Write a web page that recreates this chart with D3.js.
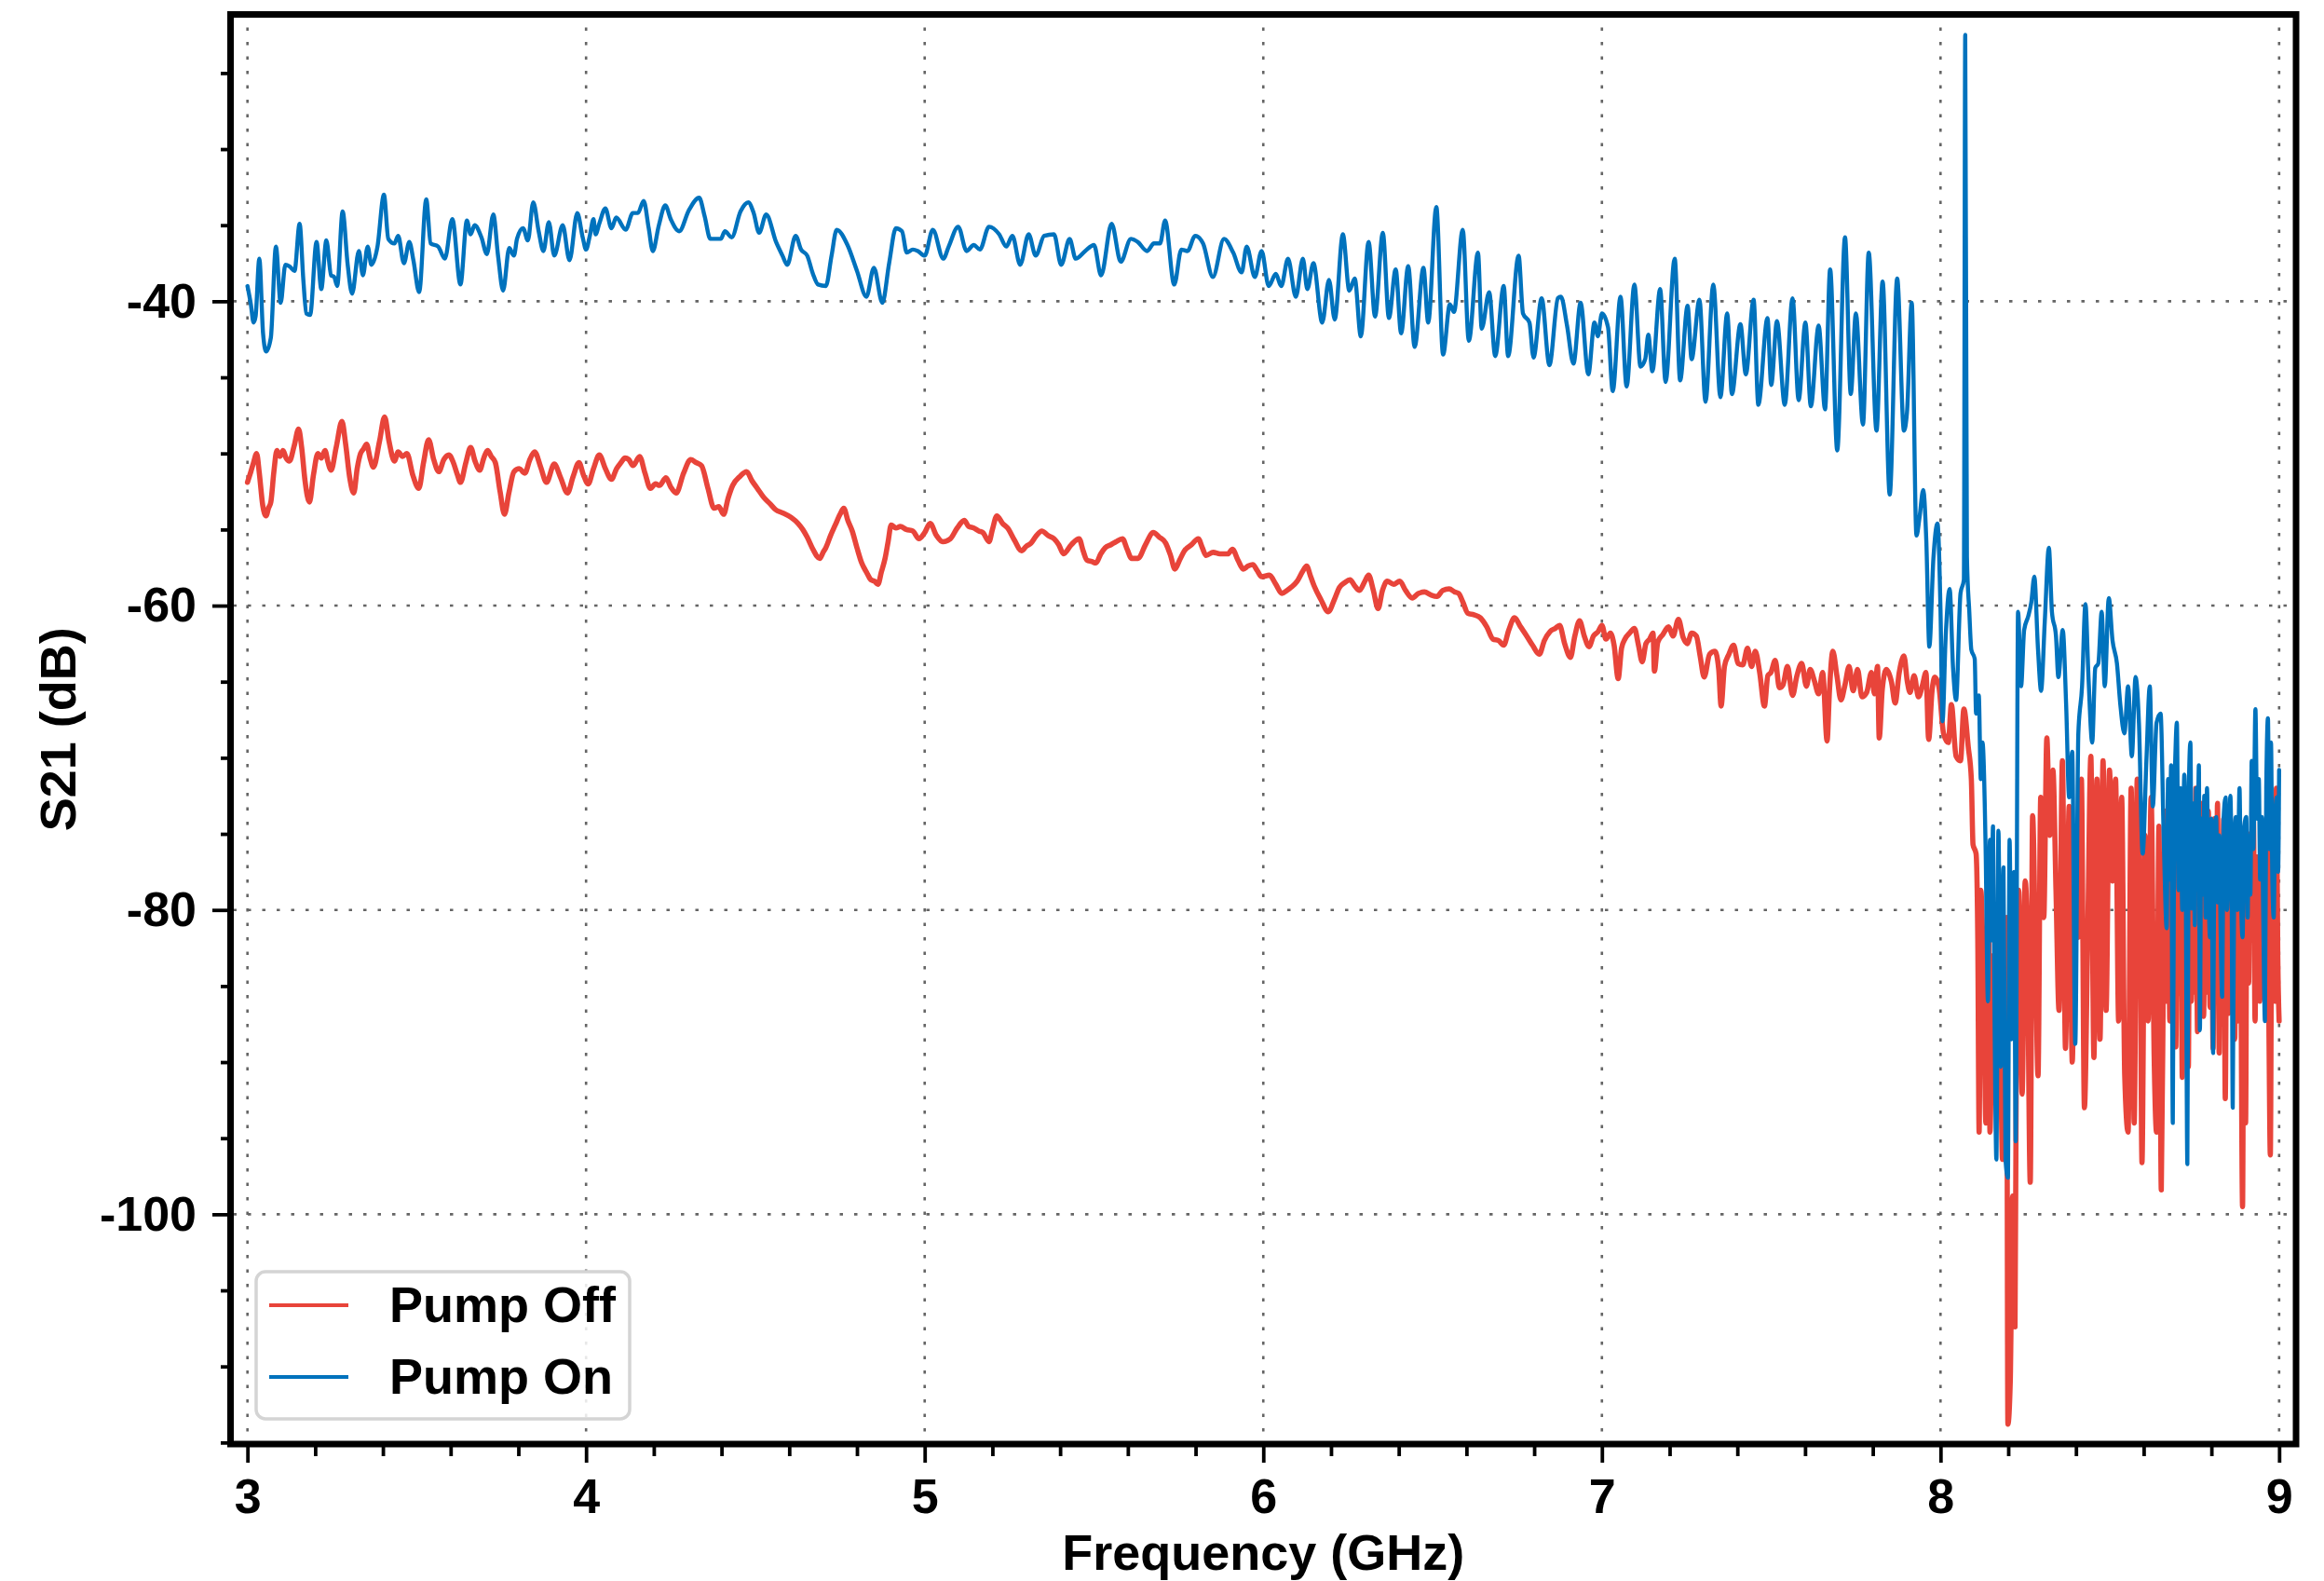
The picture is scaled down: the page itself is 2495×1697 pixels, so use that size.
<!DOCTYPE html>
<html>
<head>
<meta charset="utf-8">
<script src="https://cdn.jsdelivr.net/npm/d3@7"></script>
<style>
  html, body { margin: 0; padding: 0; background: #ffffff; }
  svg { display: block; }
</style>
</head>
<body>
<div id="chart"></div>
<script>
// ---- Axis ticks ----
const xTickValues = [3, 4, 5, 6, 7, 8, 9];
const yTickValues = [-100, -80, -60, -40];

// ---- Series labels ----
const seriesNames = ["Pump Off", "Pump On"];

// ---- Measured S21 traces: [frequency (GHz), S21 (dB)] ----
const pumpOffTrace = [
  [3.000,-51.9],[3.010,-51.2],[3.018,-50.6],[3.027,-50.0],[3.035,-51.3],[3.045,-53.4],[3.055,-54.1],[3.062,-53.6],[3.069,-53.2],[3.078,-51.2],
  [3.087,-49.8],[3.096,-50.2],[3.105,-49.8],[3.114,-50.3],[3.124,-50.5],[3.138,-49.5],[3.151,-48.4],[3.160,-49.6],[3.170,-51.8],[3.183,-53.2],
  [3.195,-51.4],[3.208,-50.0],[3.218,-50.3],[3.229,-49.8],[3.238,-50.6],[3.247,-51.1],[3.262,-49.6],[3.279,-47.9],[3.290,-49.4],[3.302,-51.6],
  [3.314,-52.6],[3.324,-51.0],[3.334,-50.0],[3.343,-49.7],[3.352,-49.4],[3.362,-50.3],[3.372,-50.9],[3.390,-49.2],[3.405,-47.6],[3.418,-49.2],
  [3.434,-50.5],[3.445,-49.9],[3.458,-50.2],[3.471,-50.0],[3.488,-51.4],[3.506,-52.3],[3.520,-50.6],[3.535,-49.1],[3.550,-50.4],[3.565,-51.2],
  [3.580,-50.4],[3.595,-50.1],[3.608,-50.6],[3.620,-51.4],[3.629,-51.9],[3.645,-50.6],[3.659,-49.6],[3.672,-50.5],[3.686,-51.1],[3.698,-50.3],
  [3.709,-49.8],[3.720,-50.2],[3.732,-50.6],[3.746,-52.5],[3.759,-54.0],[3.772,-52.6],[3.787,-51.2],[3.803,-51.0],[3.819,-51.3],[3.834,-50.4],
  [3.848,-49.9],[3.866,-50.9],[3.883,-51.9],[3.906,-50.7],[3.925,-51.6],[3.945,-52.6],[3.962,-51.5],[3.979,-50.6],[3.992,-51.4],[4.006,-52.0],
  [4.022,-51.0],[4.039,-50.1],[4.057,-51.0],[4.075,-51.7],[4.090,-51.0],[4.103,-50.6],[4.115,-50.3],[4.126,-50.4],[4.139,-50.8],[4.158,-50.2],
  [4.174,-51.3],[4.190,-52.3],[4.205,-52.0],[4.217,-52.1],[4.236,-51.6],[4.250,-52.2],[4.266,-52.6],[4.288,-51.3],[4.309,-50.4],[4.325,-50.6],
  [4.341,-50.8],[4.360,-52.3],[4.378,-53.6],[4.392,-53.5],[4.406,-54.0],[4.420,-52.9],[4.433,-52.1],[4.455,-51.5],[4.474,-51.2],[4.490,-51.8],
  [4.506,-52.3],[4.525,-52.9],[4.543,-53.3],[4.560,-53.7],[4.580,-53.9],[4.605,-54.2],[4.626,-54.6],[4.640,-55.0],[4.653,-55.5],[4.670,-56.3],
  [4.690,-56.9],[4.700,-56.5],[4.708,-56.2],[4.722,-55.4],[4.736,-54.7],[4.750,-54.0],[4.761,-53.6],[4.773,-54.4],[4.786,-55.1],[4.800,-56.2],
  [4.814,-57.2],[4.828,-57.8],[4.841,-58.3],[4.852,-58.4],[4.862,-58.6],[4.872,-57.8],[4.883,-56.9],[4.892,-55.8],[4.901,-54.7],[4.915,-54.9],
  [4.928,-54.8],[4.946,-55.0],[4.965,-55.1],[4.983,-55.6],[5.000,-55.2],[5.016,-54.6],[5.035,-55.4],[5.053,-55.8],[5.076,-55.6],[5.096,-54.9],
  [5.117,-54.4],[5.130,-54.8],[5.145,-54.9],[5.160,-55.1],[5.172,-55.2],[5.190,-55.8],[5.200,-55.0],[5.213,-54.1],[5.230,-54.6],[5.245,-54.9],
  [5.265,-55.7],[5.286,-56.4],[5.300,-56.1],[5.314,-55.9],[5.330,-55.4],[5.346,-55.1],[5.365,-55.4],[5.382,-55.6],[5.396,-56.0],[5.410,-56.6],
  [5.433,-56.0],[5.456,-55.6],[5.468,-56.4],[5.479,-57.0],[5.493,-57.1],[5.506,-57.2],[5.520,-56.6],[5.533,-56.2],[5.550,-56.0],[5.565,-55.8],
  [5.584,-55.6],[5.598,-56.3],[5.611,-56.9],[5.630,-56.9],[5.652,-56.0],[5.675,-55.2],[5.693,-55.5],[5.712,-55.9],[5.726,-56.7],[5.739,-57.6],
  [5.753,-57.0],[5.767,-56.4],[5.788,-56.0],[5.808,-55.6],[5.820,-56.2],[5.831,-56.7],[5.852,-56.5],[5.872,-56.6],[5.895,-56.6],[5.909,-56.3],
  [5.925,-57.0],[5.941,-57.6],[5.955,-57.4],[5.969,-57.3],[5.982,-57.7],[5.995,-58.1],[6.018,-58.0],[6.037,-58.6],[6.055,-59.2],[6.070,-59.0],
  [6.082,-58.8],[6.100,-58.4],[6.115,-57.8],[6.128,-57.4],[6.140,-58.1],[6.150,-58.7],[6.170,-59.6],[6.192,-60.4],[6.210,-59.6],[6.225,-58.8],
  [6.240,-58.5],[6.256,-58.3],[6.270,-58.7],[6.284,-59.0],[6.300,-58.4],[6.311,-58.0],[6.325,-59.0],[6.339,-60.2],[6.352,-59.0],[6.366,-58.4],
  [6.385,-58.6],[6.403,-58.4],[6.420,-59.0],[6.440,-59.5],[6.458,-59.2],[6.476,-59.1],[6.495,-59.3],[6.513,-59.4],[6.530,-59.0],[6.549,-58.9],
  [6.565,-59.1],[6.577,-59.2],[6.590,-59.8],[6.604,-60.5],[6.622,-60.6],[6.641,-60.8],[6.660,-61.4],[6.678,-62.2],[6.695,-62.3],[6.710,-62.6],
  [6.725,-61.6],[6.742,-60.8],[6.760,-61.4],[6.778,-62.0],[6.795,-62.6],[6.815,-63.2],[6.830,-62.3],[6.847,-61.7],[6.862,-61.5],[6.875,-61.3],
  [6.890,-62.5],[6.907,-63.4],[6.920,-62.0],[6.934,-61.0],[6.948,-62.0],[6.962,-62.7],[6.975,-62.0],[6.989,-61.7],[7.000,-61.3],[7.012,-62.2],
  [7.025,-61.8],[7.036,-62.6],[7.048,-64.8],[7.058,-62.8],[7.068,-62.2],[7.082,-61.8],[7.096,-61.5],[7.108,-62.6],[7.119,-63.7],[7.130,-62.5],
  [7.141,-62.2],[7.151,-61.8],[7.155,-64.3],[7.165,-62.4],[7.180,-61.9],[7.197,-61.4],[7.210,-62.0],[7.226,-60.9],[7.240,-62.1],[7.252,-62.5],
  [7.265,-61.8],[7.279,-62.0],[7.290,-63.3],[7.302,-64.7],[7.318,-63.2],[7.334,-63.0],[7.345,-64.2],[7.352,-66.6],[7.362,-64.0],[7.375,-63.2],
  [7.389,-62.6],[7.402,-63.8],[7.416,-63.9],[7.430,-62.8],[7.442,-64.0],[7.453,-63.0],[7.466,-64.4],[7.480,-66.6],[7.490,-64.6],[7.499,-64.4],
  [7.512,-63.6],[7.524,-65.4],[7.535,-65.2],[7.548,-64.0],[7.563,-65.9],[7.576,-64.6],[7.590,-63.8],[7.604,-65.3],[7.615,-64.2],[7.627,-64.9],
  [7.640,-65.8],[7.652,-64.4],[7.665,-68.9],[7.672,-65.6],[7.682,-63.0],[7.694,-64.6],[7.706,-66.2],[7.718,-65.2],[7.730,-64.0],[7.742,-65.6],
  [7.755,-64.2],[7.768,-66.0],[7.782,-65.7],[7.796,-64.4],[7.805,-65.8],[7.814,-64.0],[7.819,-68.7],[7.828,-65.5],[7.840,-64.2],[7.855,-65.0],
  [7.866,-66.4],[7.878,-64.4],[7.892,-63.3],[7.902,-65.0],[7.910,-65.7],[7.922,-64.6],[7.935,-66.0],[7.947,-65.2],[7.957,-64.4],[7.965,-68.8],
  [7.975,-65.6],[7.983,-64.7],[7.995,-65.3],[8.009,-68.4],[8.023,-69.0],[8.032,-66.5],[8.046,-69.9],[8.059,-70.2],[8.069,-66.8],[8.082,-69.3],
  [8.091,-71.4],[8.096,-75.7],[8.105,-76.3],[8.110,-81.8],[8.114,-94.6],[8.119,-78.7],[8.128,-86.0],[8.134,-94.0],[8.142,-78.7],[8.146,-94.6],
  [8.155,-83.0],[8.165,-90.9],[8.174,-84.2],[8.183,-96.4],[8.189,-87.9],[8.195,-80.5],[8.199,-113.8],[8.206,-111.0],[8.213,-98.8],[8.220,-107.4],
  [8.224,-88.8],[8.231,-78.7],[8.241,-92.1],[8.250,-78.1],[8.256,-81.2],[8.265,-97.9],[8.272,-73.8],[8.281,-83.6],[8.288,-90.9],[8.296,-72.6],
  [8.305,-80.5],[8.314,-68.7],[8.323,-75.1],[8.332,-70.8],[8.341,-78.7],[8.350,-86.6],[8.360,-70.2],[8.369,-89.1],[8.380,-73.2],[8.389,-90.0],
  [8.398,-78.7],[8.407,-81.8],[8.416,-71.4],[8.425,-93.0],[8.435,-81.2],[8.444,-69.9],[8.453,-89.7],[8.462,-71.4],[8.471,-88.5],[8.480,-70.2],
  [8.489,-86.6],[8.499,-70.8],[8.508,-78.1],[8.517,-71.4],[8.526,-87.3],[8.535,-72.6],[8.544,-90.9],[8.554,-94.6],[8.563,-72.0],[8.572,-94.0],
  [8.581,-71.4],[8.590,-82.4],[8.595,-96.6],[8.604,-75.1],[8.613,-87.3],[8.622,-72.6],[8.631,-89.7],[8.638,-94.6],[8.645,-74.5],[8.652,-98.4],
  [8.659,-81.8],[8.664,-73.5],[8.668,-86.0],[8.673,-74.0],[8.677,-87.3],[8.682,-72.5],[8.686,-84.0],[8.691,-75.0],[8.695,-89.0],[8.700,-73.0],
  [8.704,-85.5],[8.709,-74.5],[8.714,-91.0],[8.718,-72.8],[8.723,-84.0],[8.727,-75.5],[8.732,-90.3],[8.736,-73.5],[8.741,-86.0],[8.745,-74.0],
  [8.750,-85.4],[8.754,-72.0],[8.759,-88.0],[8.763,-75.0],[8.768,-85.1],[8.772,-73.0],[8.777,-87.0],[8.782,-74.5],[8.787,-85.4],[8.791,-73.5],
  [8.796,-86.4],[8.800,-75.0],[8.805,-89.1],[8.809,-74.0],[8.814,-85.6],[8.818,-73.0],[8.823,-89.4],[8.827,-75.5],[8.832,-84.5],[8.836,-74.0],
  [8.841,-92.4],[8.846,-76.0],[8.851,-86.8],[8.855,-73.5],[8.860,-85.2],[8.864,-75.0],[8.869,-88.5],[8.873,-76.0],[8.878,-87.3],[8.885,-78.0],
  [8.892,-99.5],[8.896,-80.0],[8.901,-94.0],[8.905,-76.0],[8.910,-84.8],[8.914,-75.0],[8.919,-82.0],[8.924,-74.0],[8.929,-87.3],[8.933,-76.5],
  [8.938,-78.0],[8.943,-86.0],[8.947,-74.5],[8.952,-85.4],[8.956,-77.0],[8.961,-84.8],[8.965,-73.0],[8.970,-88.0],[8.974,-96.1],[8.979,-76.0],
  [8.983,-78.1],[8.988,-86.0],[8.992,-72.0],[8.996,-83.0],[9.000,-87.3]
];

const pumpOnTrace = [
  [3.000,-39.0],[3.010,-40.2],[3.018,-41.4],[3.024,-41.0],[3.035,-37.2],[3.046,-42.1],[3.055,-43.3],[3.069,-42.4],[3.084,-36.4],[3.098,-40.1],
  [3.112,-37.6],[3.124,-37.7],[3.139,-38.0],[3.154,-34.9],[3.165,-38.6],[3.174,-40.8],[3.185,-40.9],[3.204,-36.1],[3.218,-39.2],[3.233,-36.0],
  [3.247,-38.3],[3.256,-38.4],[3.265,-39.0],[3.281,-34.1],[3.296,-37.6],[3.309,-39.5],[3.329,-36.7],[3.341,-38.3],[3.355,-36.4],[3.366,-37.6],
  [3.384,-36.4],[3.403,-33.0],[3.416,-35.9],[3.434,-36.2],[3.445,-35.7],[3.462,-37.5],[3.478,-36.1],[3.490,-37.3],[3.507,-39.4],[3.528,-33.3],
  [3.541,-36.2],[3.563,-36.4],[3.583,-37.2],[3.605,-34.6],[3.629,-38.9],[3.648,-34.7],[3.659,-35.6],[3.671,-35.0],[3.691,-35.8],[3.707,-36.9],
  [3.726,-34.3],[3.740,-37.0],[3.755,-39.3],[3.773,-36.5],[3.787,-37.0],[3.796,-35.9],[3.814,-35.2],[3.828,-36.0],[3.844,-33.5],[3.860,-35.4],
  [3.874,-36.7],[3.890,-34.8],[3.906,-37.0],[3.931,-35.0],[3.951,-37.3],[3.974,-34.2],[3.990,-35.8],[4.000,-36.6],[4.011,-35.7],[4.022,-34.6],
  [4.028,-35.6],[4.039,-34.9],[4.057,-33.9],[4.075,-35.2],[4.089,-34.5],[4.117,-35.3],[4.138,-34.2],[4.153,-34.2],[4.170,-33.4],[4.185,-35.2],
  [4.197,-36.7],[4.215,-35.0],[4.234,-33.7],[4.250,-34.6],[4.275,-35.4],[4.304,-34.0],[4.334,-33.2],[4.350,-34.4],[4.367,-35.9],[4.398,-35.9],
  [4.410,-35.4],[4.430,-35.8],[4.456,-34.1],[4.479,-33.5],[4.495,-34.2],[4.511,-35.5],[4.532,-34.3],[4.561,-36.1],[4.580,-37.0],[4.594,-37.6],
  [4.619,-35.7],[4.635,-36.6],[4.653,-37.0],[4.670,-38.2],[4.685,-38.9],[4.708,-39.0],[4.725,-37.0],[4.740,-35.3],[4.772,-36.3],[4.800,-38.0],
  [4.828,-39.7],[4.850,-37.8],[4.875,-40.1],[4.895,-37.5],[4.915,-35.2],[4.933,-35.4],[4.947,-36.8],[4.965,-36.6],[4.980,-36.7],[5.000,-37.0],
  [5.024,-35.3],[5.055,-37.2],[5.071,-36.4],[5.099,-35.1],[5.124,-36.7],[5.145,-36.3],[5.163,-36.6],[5.190,-35.1],[5.220,-35.6],[5.241,-36.4],
  [5.259,-35.7],[5.282,-37.6],[5.307,-35.6],[5.328,-37.0],[5.353,-35.7],[5.382,-35.6],[5.403,-37.6],[5.428,-35.9],[5.446,-37.2],[5.474,-36.7],
  [5.500,-36.3],[5.521,-38.3],[5.552,-34.9],[5.579,-37.4],[5.609,-35.9],[5.629,-36.1],[5.657,-36.7],[5.677,-36.2],[5.695,-36.2],[5.710,-34.7],
  [5.737,-38.9],[5.758,-36.6],[5.776,-36.7],[5.799,-35.7],[5.822,-36.2],[5.851,-38.4],[5.884,-35.9],[5.911,-36.8],[5.936,-38.1],[5.951,-36.4],
  [5.975,-38.4],[5.995,-36.7],[6.016,-39.0],[6.037,-38.2],[6.053,-39.0],[6.073,-37.2],[6.096,-39.7],[6.117,-37.2],[6.130,-39.2],[6.148,-37.5],
  [6.174,-41.4],[6.194,-38.6],[6.211,-41.2],[6.235,-35.6],[6.254,-39.3],[6.270,-38.5],[6.288,-42.3],[6.311,-36.1],[6.330,-41.0],[6.353,-35.5],
  [6.371,-41.1],[6.391,-37.9],[6.407,-42.1],[6.428,-37.7],[6.447,-43.0],[6.473,-37.8],[6.487,-41.4],[6.511,-33.8],[6.531,-43.5],[6.551,-40.2],
  [6.563,-40.7],[6.589,-35.3],[6.607,-42.6],[6.634,-36.8],[6.645,-41.8],[6.667,-39.4],[6.685,-43.6],[6.710,-39.0],[6.723,-43.6],[6.754,-37.0],
  [6.767,-40.8],[6.786,-41.4],[6.798,-43.7],[6.822,-39.8],[6.845,-44.2],[6.870,-39.8],[6.879,-39.7],[6.897,-41.6],[6.916,-44.1],[6.937,-40.1],
  [6.960,-44.8],[6.978,-41.4],[6.988,-42.3],[7.000,-40.8],[7.018,-41.7],[7.032,-45.9],[7.055,-39.7],[7.073,-45.6],[7.096,-38.9],[7.114,-44.3],
  [7.128,-43.8],[7.137,-42.2],[7.149,-44.6],[7.172,-39.2],[7.188,-45.3],[7.215,-37.2],[7.231,-45.2],[7.253,-40.3],[7.265,-43.8],[7.288,-39.9],
  [7.306,-46.6],[7.329,-38.9],[7.350,-46.3],[7.370,-40.8],[7.384,-46.1],[7.409,-41.5],[7.425,-44.8],[7.448,-39.9],[7.462,-46.8],[7.489,-41.1],
  [7.500,-45.5],[7.517,-41.3],[7.540,-46.8],[7.563,-39.8],[7.581,-46.5],[7.601,-41.4],[7.617,-46.9],[7.640,-41.6],[7.659,-47.1],[7.674,-37.9],
  [7.695,-49.8],[7.718,-35.8],[7.735,-46.1],[7.750,-40.8],[7.771,-48.1],[7.788,-36.8],[7.811,-48.5],[7.829,-38.7],[7.850,-52.7],[7.872,-38.5],
  [7.892,-48.5],[7.901,-47.3],[7.915,-40.1],[7.929,-55.4],[7.938,-54.2],[7.949,-52.4],[7.958,-55.7],[7.967,-62.7],[7.979,-56.9],[7.991,-54.6],
  [8.000,-60.3],[8.006,-67.6],[8.015,-62.2],[8.027,-58.9],[8.037,-64.1],[8.046,-66.2],[8.059,-59.2],[8.069,-58.3],[8.073,-22.5],[8.078,-56.8],
  [8.085,-60.4],[8.091,-62.9],[8.101,-63.5],[8.105,-67.1],[8.113,-65.9],[8.119,-71.4],[8.124,-69.0],[8.133,-75.7],[8.140,-86.0],[8.146,-75.4],
  [8.150,-82.0],[8.155,-74.5],[8.160,-88.0],[8.165,-96.4],[8.171,-74.8],[8.178,-90.3],[8.186,-77.2],[8.192,-96.4],[8.199,-97.6],[8.204,-75.4],
  [8.210,-88.5],[8.217,-77.5],[8.222,-95.2],[8.229,-60.4],[8.238,-65.3],[8.247,-61.6],[8.259,-60.7],[8.268,-59.8],[8.277,-58.1],[8.288,-62.9],
  [8.297,-65.6],[8.308,-61.0],[8.320,-56.2],[8.329,-60.4],[8.341,-62.0],[8.348,-64.7],[8.361,-61.6],[8.371,-66.5],[8.380,-72.6],[8.389,-69.6],
  [8.398,-88.8],[8.407,-68.4],[8.418,-65.3],[8.428,-59.9],[8.437,-64.7],[8.448,-69.0],[8.457,-64.1],[8.466,-63.8],[8.476,-60.4],[8.485,-65.3],
  [8.497,-59.5],[8.508,-62.3],[8.521,-63.8],[8.531,-66.5],[8.543,-68.4],[8.554,-65.3],[8.565,-69.9],[8.576,-64.7],[8.586,-67.7],[8.597,-76.3],
  [8.608,-70.2],[8.618,-65.3],[8.627,-73.2],[8.638,-67.7],[8.650,-67.1],[8.659,-75.1],[8.668,-81.2],[8.672,-71.4],[8.677,-78.0],[8.681,-70.5],
  [8.686,-94.0],[8.690,-74.0],[8.694,-69.5],[8.698,-67.7],[8.703,-78.7],[8.709,-72.0],[8.714,-80.0],[8.720,-71.1],[8.724,-77.0],[8.729,-96.7],
  [8.733,-72.5],[8.738,-69.0],[8.742,-79.9],[8.747,-73.0],[8.751,-81.0],[8.755,-72.0],[8.759,-76.5],[8.763,-70.5],[8.766,-87.9],[8.770,-74.0],
  [8.775,-79.0],[8.779,-72.5],[8.783,-80.5],[8.787,-72.0],[8.791,-78.0],[8.796,-81.8],[8.800,-74.0],[8.805,-89.4],[8.809,-75.0],[8.814,-73.9],
  [8.818,-79.5],[8.823,-75.1],[8.827,-81.0],[8.832,-85.7],[8.836,-74.0],[8.842,-72.6],[8.846,-80.0],[8.851,-76.9],[8.856,-72.5],[8.860,-79.5],
  [8.863,-93.0],[8.868,-75.5],[8.872,-73.9],[8.877,-80.0],[8.883,-72.0],[8.887,-78.5],[8.892,-81.8],[8.897,-74.5],[8.903,-73.9],[8.907,-80.5],
  [8.910,-75.1],[8.915,-79.0],[8.919,-70.2],[8.924,-76.0],[8.930,-66.8],[8.935,-74.0],[8.940,-71.4],[8.944,-78.0],[8.949,-73.9],[8.953,-80.0],
  [8.958,-87.3],[8.962,-72.0],[8.967,-67.4],[8.971,-76.0],[8.976,-69.0],[8.980,-78.0],[8.984,-80.5],[8.988,-74.0],[8.993,-72.6],[8.997,-77.5],
  [9.000,-70.8]
];

// ---- Drawing ----
const FONT = '"Liberation Sans", Arial, Helvetica, sans-serif';
const W = 2495, H = 1697;
const frame = { left: 247.5, right: 2465, top: 15.5, bottom: 1550 };
const lineColors = { "Pump Off": "#E8443A", "Pump On": "#0072BD" };

const x = d3.scaleLinear().domain([2.95, 9.05]).range([frame.left, frame.right]);
const y = d3.scaleLinear().domain([-115.1, -21.15]).range([frame.bottom, frame.top]);

const svg = d3.select("#chart").append("svg")
  .attr("width", W).attr("height", H)
  .attr("viewBox", `0 0 ${W} ${H}`);

svg.append("rect").attr("width", W).attr("height", H).attr("fill", "#ffffff");

svg.append("defs").append("clipPath").attr("id", "plotArea")
  .append("rect")
  .attr("x", frame.left).attr("y", frame.top)
  .attr("width", frame.right - frame.left)
  .attr("height", frame.bottom - frame.top);

// dotted grid at the major ticks
const grid = svg.append("g").attr("stroke", "#555").attr("stroke-width", 2.6)
  .attr("stroke-dasharray", "3.5,12").attr("opacity", 0.9);
grid.selectAll("line.vx").data(xTickValues).join("line").attr("class", "vx")
  .attr("x1", d => x(d)).attr("x2", d => x(d))
  .attr("y1", frame.top + 14).attr("y2", frame.bottom - 3);
grid.selectAll("line.hy").data(yTickValues).join("line").attr("class", "hy")
  .attr("y1", d => y(d)).attr("y2", d => y(d))
  .attr("x1", frame.left + 3).attr("x2", frame.right - 3);

// traces (monotone curve keeps the measured extremes while rounding the joins)
const line = d3.line().curve(d3.curveMonotoneX).x(d => x(d[0])).y(d => y(d[1]));
const traces = svg.append("g").attr("clip-path", "url(#plotArea)")
  .attr("fill", "none").attr("stroke-linejoin", "round").attr("stroke-linecap", "round");
traces.append("path").datum(pumpOffTrace)
  .attr("d", line).attr("stroke", lineColors["Pump Off"]).attr("stroke-width", 5.6);
traces.append("path").datum(pumpOnTrace)
  .attr("d", line).attr("stroke", lineColors["Pump On"]).attr("stroke-width", 4.4);

// x axis: major ticks with labels, minor ticks every 0.2 GHz
const xMinor = x.ticks(30).filter(v => Math.abs(v - Math.round(v)) > 1e-6);
const gxMinor = svg.append("g").attr("transform", `translate(0,${frame.bottom})`)
  .call(d3.axisBottom(x).tickValues(xMinor).tickSize(13).tickFormat(""));
const gx = svg.append("g").attr("transform", `translate(0,${frame.bottom})`)
  .call(d3.axisBottom(x).tickValues(xTickValues).tickSize(20).tickPadding(17).tickFormat(d => String(d)));

// y axis: major ticks every 20 dB with labels, minor every 5 dB
const yMinor = y.ticks(19).filter(v => !yTickValues.includes(v));
const gyMinor = svg.append("g").attr("transform", `translate(${frame.left},0)`)
  .call(d3.axisLeft(y).tickValues(yMinor).tickSize(10.5).tickFormat(""));
const gy = svg.append("g").attr("transform", `translate(${frame.left},0)`)
  .call(d3.axisLeft(y).tickValues(yTickValues).tickSize(19.5).tickPadding(17).tickFormat(d => String(d)));

[gxMinor, gx, gyMinor, gy].forEach(g => {
  g.select(".domain").remove();
  g.selectAll(".tick line").attr("stroke", "#000").attr("stroke-width", 3.8);
  g.attr("font-family", FONT).attr("font-size", 52).attr("font-weight", "bold");
  g.selectAll(".tick text").attr("fill", "#000");
});

// frame
svg.append("rect")
  .attr("x", frame.left).attr("y", frame.top)
  .attr("width", frame.right - frame.left).attr("height", frame.bottom - frame.top)
  .attr("fill", "none").attr("stroke", "#000").attr("stroke-width", 7);

// axis titles
svg.append("text")
  .attr("x", (frame.left + frame.right) / 2).attr("y", 1685)
  .attr("text-anchor", "middle")
  .attr("font-family", FONT).attr("font-size", 54).attr("font-weight", "bold")
  .text("Frequency (GHz)");
svg.append("text")
  .attr("transform", `translate(81,${(frame.top + frame.bottom) / 2}) rotate(-90)`)
  .attr("text-anchor", "middle")
  .attr("font-family", FONT).attr("font-size", 54).attr("font-weight", "bold")
  .text("S21 (dB)");

// legend
const legend = svg.append("g").attr("transform", "translate(275,1365)");
legend.append("rect")
  .attr("width", 401).attr("height", 158).attr("rx", 10).attr("ry", 10)
  .attr("fill", "#fff").attr("fill-opacity", 0.85)
  .attr("stroke", "#d4d4d4").attr("stroke-width", 3.5);
const entries = legend.selectAll("g.entry").data(seriesNames).join("g")
  .attr("class", "entry")
  .attr("transform", (d, i) => `translate(0,${36 + i * 77})`);
entries.append("line")
  .attr("x1", 14).attr("x2", 99).attr("y1", 0).attr("y2", 0)
  .attr("stroke", d => lineColors[d]).attr("stroke-width", 4);
entries.append("text")
  .attr("x", 143).attr("y", 18)
  .attr("font-family", FONT).attr("font-size", 54).attr("font-weight", "bold")
  .attr("fill", "#000")
  .text(d => d);
</script>
</body>
</html>
